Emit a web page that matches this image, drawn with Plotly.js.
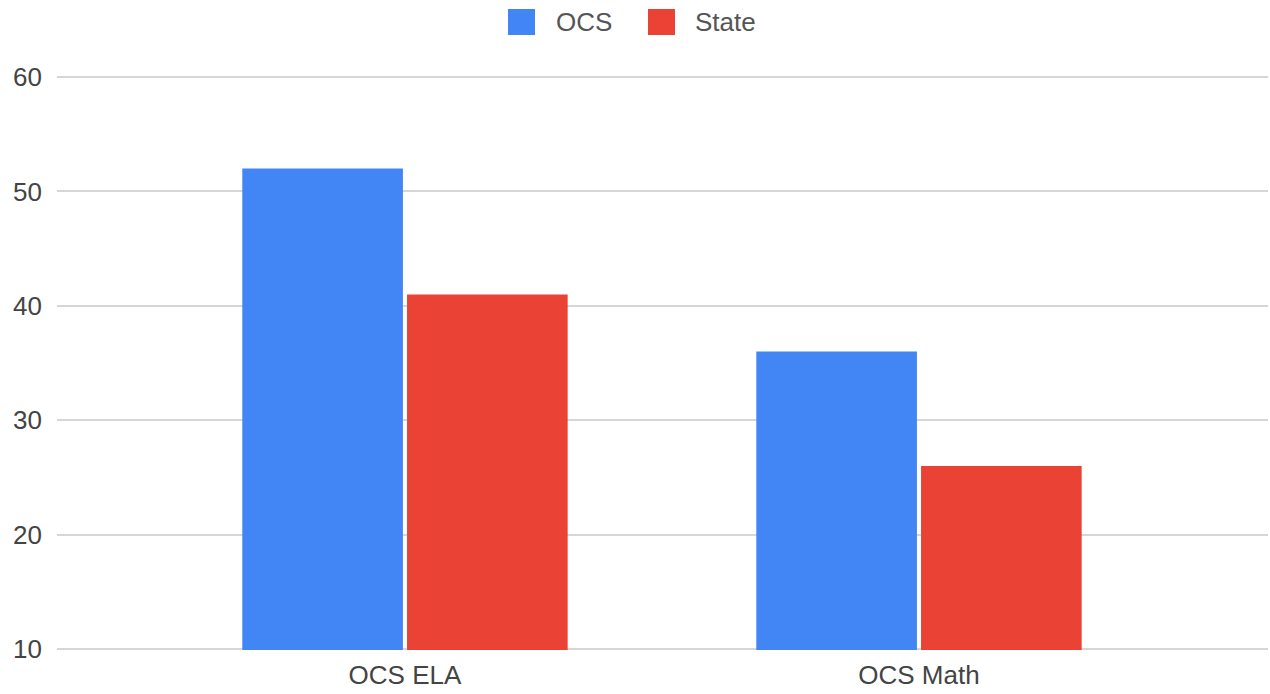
<!DOCTYPE html>
<html>
<head>
<meta charset="utf-8">
<script src="https://cdn.plot.ly/plotly-3.0.1.min.js"></script>
<style>html,body{margin:0;padding:0;background:#fff;}#chart{width:1270px;height:694px;}</style>
</head>
<body>
<div id="chart"></div>
<script>
const categories = ["OCS ELA", "OCS Math"];
const seriesNames = ["OCS", "State"];
const ocsValues = [52, 36];
const stateValues = [41, 26];
const yTicks = [10, 20, 30, 40, 50, 60];

const colors = ["#4285F4", "#EA4335"];
const FONT = "Arial, 'Liberation Sans', sans-serif";

const traces = [
  {type: "bar", name: seriesNames[0], x: categories, y: ocsValues, marker: {color: colors[0]}, showlegend: false, hoverinfo: "x+y+name"},
  {type: "bar", name: seriesNames[1], x: categories, y: stateValues, marker: {color: colors[1]}, showlegend: false, hoverinfo: "x+y+name"}
];

// plot area geometry (pixels)
const L = 57, R = 2, T = 76, B = 44, W = 1270, H = 694;
const PW = W - L - R, PH = H - T - B;
const px2x = p => (p - L) / PW;
const py2y = p => 1 - (p - T) / PH;

// custom legend (large square swatches) built from series names
const legendItems = [
  {sq0: 508, sq1: 535, tx: 554},
  {sq0: 648, sq1: 675, tx: 693}
];
const shapes = [], annotations = [];
legendItems.forEach((it, i) => {
  shapes.push({type: "rect", xref: "paper", yref: "paper", layer: "above",
    x0: px2x(it.sq0), x1: px2x(it.sq1),
    y0: py2y(35), y1: py2y(9),
    fillcolor: colors[i], line: {width: 0}});
  annotations.push({xref: "paper", yref: "paper", x: px2x(it.tx), y: py2y(22),
    xanchor: "left", yanchor: "middle", showarrow: false, text: seriesNames[i],
    font: {family: FONT, size: 26, color: "#555555"}});
});

const layout = {
  width: W, height: H,
  margin: {l: L, r: R, t: T, b: B},
  paper_bgcolor: "#ffffff", plot_bgcolor: "#ffffff",
  font: {family: FONT, size: 26, color: "#444444"},
  barmode: "group", bargap: 0.359, bargroupgap: 0.025,
  showlegend: false,
  xaxis: {type: "category", range: [-0.677, 1.679], showgrid: false, zeroline: false, showline: false,
    ticks: "", tickfont: {family: FONT, size: 26, color: "#444444"}, ticklabelstandoff: 7, fixedrange: true},
  yaxis: {range: [9.9, 60.1], tickvals: yTicks, ticktext: yTicks.map(String), showgrid: true, gridcolor: "#d6d6d6", gridwidth: 2,
    zeroline: false, showline: false, ticks: "", tickfont: {family: FONT, size: 26, color: "#444444"},
    ticklabelstandoff: 14, fixedrange: true},
  shapes: shapes, annotations: annotations
};

Plotly.newPlot("chart", traces, layout, {displayModeBar: false, staticPlot: true});
</script>
</body>
</html>
